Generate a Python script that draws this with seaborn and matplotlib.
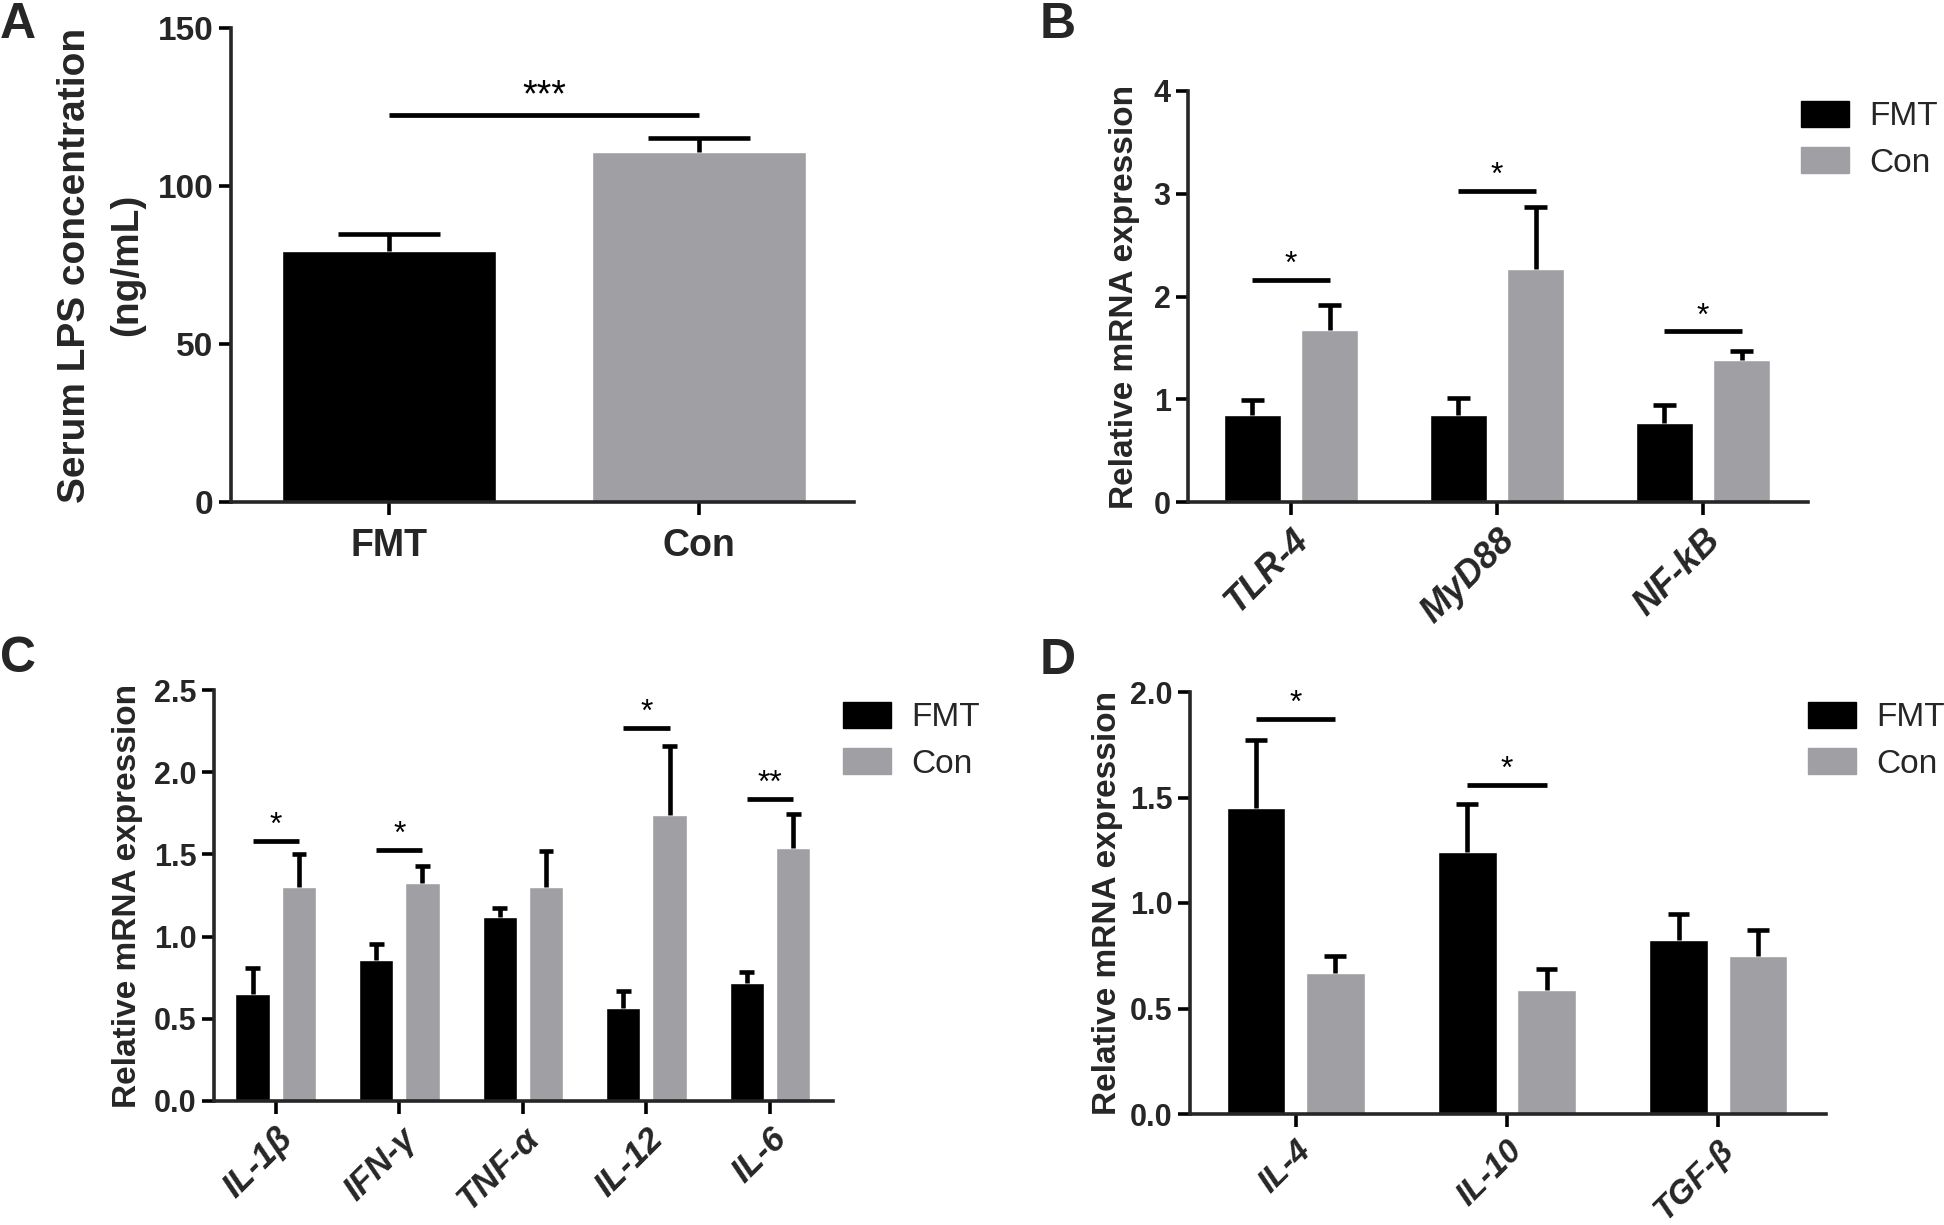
import numpy as np
import pandas as pd
import matplotlib
matplotlib.use("Agg")
import matplotlib.pyplot as plt
import matplotlib.transforms as mtransforms
from matplotlib.patches import Patch
import seaborn as sns

# ---------------- data ----------------
groups = ["FMT", "Con"]
colors = {"FMT": "#000000", "Con": "#A0A0A4"}

# Panel A
a_mean = [79.4, 110.9]
a_top = [84.8, 115.3]
a_sig_h = 122.6
a_sig_txt = "***"

# Panel B
b_genes = ["TLR-4", "MyD88", "NF-kB"]
b_fmt = [0.85, 0.85, 0.77]
b_fmt_top = [0.99, 1.01, 0.94]
b_con = [1.67, 2.27, 1.38]
b_con_top = [1.92, 2.87, 1.47]
b_sig_h = [2.16, 3.03, 1.66]
b_sig_txt = ["*", "*", "*"]

# Panel C
c_genes = ["IL-1β", "IFN-γ", "TNF-α", "IL-12", "IL-6"]
c_fmt = [0.65, 0.855, 1.118, 0.567, 0.715]
c_fmt_top = [0.81, 0.957, 1.173, 0.669, 0.783]
c_con = [1.30, 1.327, 1.30, 1.742, 1.536]
c_con_top = [1.50, 1.43, 1.52, 2.16, 1.747]
c_sig_h = [1.58, 1.525, None, 2.27, 1.84]
c_sig_txt = ["*", "*", "", "*", "**"]

# Panel D
d_genes = ["IL-4", "IL-10", "TGF-β"]
d_fmt = [1.449, 1.244, 0.827]
d_fmt_top = [1.772, 1.467, 0.946]
d_con = [0.67, 0.587, 0.747]
d_con_top = [0.75, 0.688, 0.871]
d_sig_h = [1.872, 1.561, None]
d_sig_txt = ["*", "*", ""]

# ---------------- style ----------------
sns.set_style("ticks")
plt.rcParams["font.family"] = ["Liberation Sans", "DejaVu Sans"]
plt.rcParams["axes.linewidth"] = 2.6

W, H = 1944, 1225
fig = plt.figure(figsize=(W / 100, H / 100), dpi=100)


def rect(l, r, t, b):
    return [l / W, 1 - b / H, (r - l) / W, (b - t) / H]


ERR_LW = 3.3
SIG_LW = 3.4


def style_axis(ax, yticks, ytl, tick_fs):
    sns.despine(ax=ax)
    ax.set_yticks(yticks)
    ax.set_yticklabels(ytl, fontsize=tick_fs, fontweight="bold")
    ax.tick_params(axis="both", direction="out", length=9, width=2.6, color="black")
    ax.set_xlabel("")


def bar_info(ax):
    out = []
    for cont in ax.containers:
        ps = sorted(cont.patches, key=lambda p: p.get_x())
        out.append([(p.get_x() + p.get_width() / 2, p.get_height(), p.get_width()) for p in ps])
    return out


def add_err(ax, x, y, top, bw, cap_frac):
    # one-sided (upward) error bar: stem + top cap only
    ax.plot([x, x], [y, top], color="black", lw=ERR_LW, solid_capstyle="butt", zorder=3)
    cw = bw * cap_frac
    ax.plot([x - cw / 2, x + cw / 2], [top, top], color="black", lw=ERR_LW,
            solid_capstyle="butt", zorder=3)


def add_sig(ax, x1, x2, h, txt, fs):
    ax.plot([x1, x2], [h, h], color="black", lw=SIG_LW, solid_capstyle="butt", zorder=3)
    ax.text((x1 + x2) / 2, h, txt, ha="center", va="bottom", fontsize=fs, color="black")


def grouped_panel(ax, genes, fmt, fmt_top, con, con_top, sig_h, sig_txt,
                  ymax, yticks, ytl, cap_frac, ylabel_pad, xtick_fs=26, dy=-2):
    df = pd.DataFrame({
        "gene": genes * 2,
        "group": ["FMT"] * len(genes) + ["Con"] * len(genes),
        "value": fmt + con,
    })
    sns.barplot(data=df, x="gene", y="value", hue="group", hue_order=groups,
                order=genes, palette=colors, width=0.75, gap=0.26, errorbar=None,
                saturation=1, legend=False, ax=ax)
    info = bar_info(ax)
    for i in range(len(genes)):
        xf, yf, bw = info[0][i]
        xc, yc, _ = info[1][i]
        add_err(ax, xf, yf, fmt_top[i], bw, cap_frac)
        add_err(ax, xc, yc, con_top[i], bw, cap_frac)
        if sig_h[i] is not None:
            add_sig(ax, xf, xc, sig_h[i], sig_txt[i], 23)
    ax.set_ylim(0, ymax)
    ax.set_xlim(-0.5, len(genes) - 0.49)
    style_axis(ax, yticks, ytl, 22)
    ax.set_ylabel("Relative mRNA expression", fontsize=24, fontweight="bold",
                  labelpad=ylabel_pad)
    ax.set_xticks(range(len(genes)))
    ax.set_xticklabels(genes, fontsize=xtick_fs, fontweight="bold", fontstyle="italic",
                       rotation=45, ha="right", va="top", rotation_mode="anchor")
    offset = mtransforms.ScaledTranslation(12 / 100, dy / 100, fig.dpi_scale_trans)
    for lab in ax.get_xticklabels():
        lab.set_transform(lab.get_transform() + offset)
    ax.tick_params(axis="x", pad=6)


def add_legend(ax, x, y):
    handles = [Patch(facecolor=colors[g], edgecolor=colors[g]) for g in groups]
    ax.legend(handles, groups, loc="upper left", bbox_to_anchor=(x / W, 1 - y / H),
              bbox_transform=fig.transFigure, frameon=False, fontsize=24,
              handlelength=1.45, handleheight=0.8, handletextpad=0.6,
              labelspacing=0.45, borderpad=0, borderaxespad=0)


# ---------------- Panel A ----------------
axA = fig.add_axes(rect(231, 854, 28, 502))
dfA = pd.DataFrame({"group": groups, "value": a_mean})
sns.barplot(data=dfA, x="group", y="value", hue="group", hue_order=groups,
            order=groups, palette=colors, width=0.69, errorbar=None,
            saturation=1, legend=False, ax=axA)
infoA = sorted((p.get_x() + p.get_width() / 2, p.get_height(), p.get_width())
               for p in axA.patches)
for (x, y, bw), top in zip(infoA, a_top):
    add_err(axA, x, y, top, bw, 0.48)
add_sig(axA, infoA[0][0], infoA[1][0], a_sig_h, a_sig_txt, 27)
axA.set_ylim(0, 150)
axA.set_xlim(-0.51, 1.5)
style_axis(axA, [0, 50, 100, 150], ["0", "50", "100", "150"], 24)
axA.set_xticks([0, 1])
axA.set_xticklabels(groups, fontsize=27, fontweight="bold")
axA.tick_params(axis="x", pad=10)
axA.set_ylabel("Serum LPS concentration\n(ng/mL)", fontsize=28, fontweight="bold",
               labelpad=9, linespacing=1.6)

# ---------------- Panel B ----------------
axB = fig.add_axes(rect(1188, 1808, 91, 502))
grouped_panel(axB, b_genes, b_fmt, b_fmt_top, b_con, b_con_top, b_sig_h, b_sig_txt,
              4, [0, 1, 2, 3, 4], ["0", "1", "2", "3", "4"], 0.4, 10)
add_legend(axB, 1801, 101)

# ---------------- Panel C ----------------
axC = fig.add_axes(rect(214, 833, 690, 1101))
grouped_panel(axC, c_genes, c_fmt, c_fmt_top, c_con, c_con_top, c_sig_h, c_sig_txt,
              2.5, [0, 0.5, 1.0, 1.5, 2.0, 2.5], ["0.0", "0.5", "1.0", "1.5", "2.0", "2.5"],
              0.43, 8, xtick_fs=25)
add_legend(axC, 843, 702)

# ---------------- Panel D ----------------
axD = fig.add_axes(rect(1190, 1826, 692, 1114))
grouped_panel(axD, d_genes, d_fmt, d_fmt_top, d_con, d_con_top, d_sig_h, d_sig_txt,
              2.0, [0, 0.5, 1.0, 1.5, 2.0], ["0.0", "0.5", "1.0", "1.5", "2.0"],
              0.37, 5, xtick_fs=24, dy=0)
add_legend(axD, 1808, 702)

# ---------------- panel letters ----------------
for lt, x, y in [("A", 0, 2), ("B", 1040, 2), ("C", 0, 636), ("D", 1040, 638)]:
    fig.text(x / W, 1 - y / H, lt, fontsize=36, fontweight="bold", ha="left", va="top")

fig.savefig("out.png", dpi=100)
